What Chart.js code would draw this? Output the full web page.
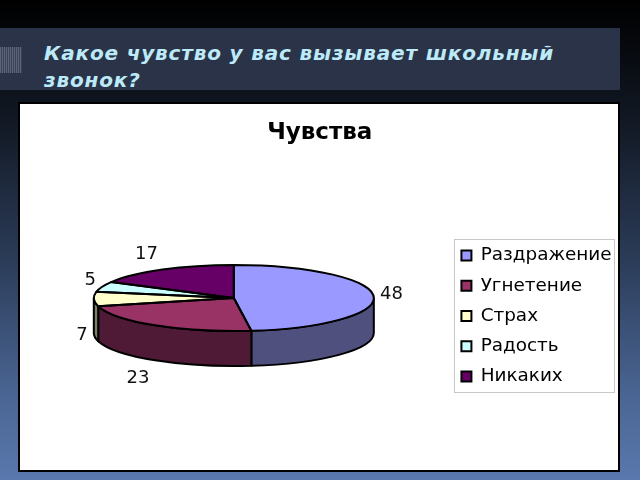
<!DOCTYPE html>
<html>
<head>
<meta charset="utf-8">
<title>Чувства</title>
<style>
html, body { margin: 0; padding: 0; }
body {
  width: 640px; height: 480px; overflow: hidden; position: relative;
  background: linear-gradient(to bottom, #000 0%, #05070b 8%, #141c29 28%, #2c3d5a 55%, #4a6593 82%, #5a78ad 100%);
}
#band { position: absolute; left: 0; top: 28px; width: 620px; height: 62px; background: #2a3347; }
#stripes {
  position: absolute; left: 0; top: 47px; width: 22px; height: 26px;
  background: repeating-linear-gradient(to right, #5b6478 0 1px, #3a4356 1px 2px);
}
#head {
  position: absolute; left: 44px; top: 40px; width: 560px; margin: 0;
  font: italic bold 20px/27px "DejaVu Sans", sans-serif; letter-spacing: 0.83px; color: #bdeaf8;
}
#panel { position: absolute; left: 18px; top: 102px; width: 598px; height: 366px; background: #fff; border: 2px solid #000; }
canvas { position: absolute; left: 18px; top: 102px; }
</style>
</head>
<body>
<div id="band"></div>
<div id="stripes"></div>
<h1 id="head">Какое чувство у вас вызывает школьный звонок?</h1>
<div id="panel"></div>
<canvas id="myChart" width="602" height="370"></canvas>
<script src="https://cdn.jsdelivr.net/npm/chart.js"></script>
<script>
const chartTitle = "Чувства";
const categories = ["Раздражение", "Угнетение", "Страх", "Радость", "Никаких"];
const values = [48, 23, 7, 5, 17];
const topColors = ["#9999ff", "#993366", "#ffffcc", "#ccffff", "#660066"];
const wallColors = ["#50507f", "#4e1a35", "#7f7f66", "#667f7f", "#330033"];

const squash = 0.236;   // flattening of the pie
const depth = 35;       // height of the side wall
const shiftY = -18;
const labelNudgeX = [0, -7, 6, 5, -7];
const labelNudgeY = [0, 3, 1, 0, 0];

function place(arc) {
  return { x: arc.x, y: arc.y + shiftY, rx: arc.outerRadius, ry: arc.outerRadius * squash };
}

/*----3d look: wall under the arcs, flattened arcs, outlines on top----*/
const pie3d = {
  id: "pie3d",
  beforeDatasetsDraw(chart) {
    const ctx = chart.ctx;
    const arcs = chart.getDatasetMeta(0).data;
    arcs.forEach(function (arc, i) {
      const p = place(arc);
      const a = Math.max(arc.startAngle, 0);
      const b = Math.min(arc.endAngle, Math.PI);
      if (b <= a) return;
      ctx.save();
      ctx.beginPath();
      ctx.ellipse(p.x, p.y, p.rx, p.ry, 0, a, b);
      ctx.ellipse(p.x, p.y + depth, p.rx, p.ry, 0, b, a, true);
      ctx.closePath();
      ctx.fillStyle = wallColors[i];
      ctx.fill();
      ctx.strokeStyle = "#000";
      ctx.lineWidth = 2;
      ctx.lineJoin = "round";
      ctx.stroke();
      ctx.restore();
    });
    const p0 = place(arcs[0]);
    ctx.save();
    ctx.translate(p0.x, p0.y);
    ctx.scale(1, squash);
    ctx.translate(-arcs[0].x, -arcs[0].y);
  },
  afterDatasetsDraw(chart) {
    const ctx = chart.ctx;
    ctx.restore();
    const arcs = chart.getDatasetMeta(0).data;
    arcs.forEach(function (arc, i) {
      const p = place(arc);
      ctx.save();
      ctx.beginPath();
      ctx.moveTo(p.x, p.y);
      ctx.ellipse(p.x, p.y, p.rx, p.ry, 0, arc.startAngle, arc.endAngle);
      ctx.closePath();
      ctx.strokeStyle = "#000";
      ctx.lineWidth = 2;
      ctx.lineJoin = "round";
      ctx.stroke();
      ctx.restore();

      // value label outside the rim
      const mid = (arc.startAngle + arc.endAngle) / 2;
      const front = Math.sin(mid) > 0 ? depth : 0;
      ctx.save();
      ctx.font = '18px "DejaVu Sans"';
      ctx.fillStyle = "#111";
      ctx.textAlign = "center";
      ctx.textBaseline = "middle";
      ctx.fillText(String(values[i]), p.x + (p.rx + 18) * Math.cos(mid) + labelNudgeX[i], p.y + (p.ry + 18) * Math.sin(mid) + front + labelNudgeY[i]);
      ctx.restore();
    });
  },
  afterDraw(chart) {
    // legend frame around the rows
    const hits = chart.legend.legendHitBoxes;
    const first = hits[0];
    const last = hits[hits.length - 1];
    const left = Math.round(first.left - 7);
    const top = Math.round(first.top - 7);
    const ctx = chart.ctx;
    ctx.save();
    ctx.strokeStyle = "#c8c8c8";
    ctx.lineWidth = 1;
    ctx.strokeRect(left + 0.5, top + 0.5, 160, Math.round(last.top + last.height + 6) - top);
    ctx.restore();
  }
};

new Chart("myChart", {
  type: "pie",
  data: {
    labels: categories,
    datasets: [{
      data: values,
      backgroundColor: topColors,
      borderWidth: 0
    }]
  },
  options: {
    responsive: false,
    animation: false,
    layout: { padding: { left: 0, right: -1.6, top: 0, bottom: 16 } },
    plugins: {
      tooltip: { enabled: false },
      title: {
        display: true,
        text: chartTitle,
        color: "#000",
        font: { family: "DejaVu Sans", size: 23, weight: "bold" },
        padding: { top: 17, bottom: 29.4 }
      },
      legend: {
        position: "right",
        fullSize: false,
        labels: {
          color: "#111",
          font: { family: "DejaVu Sans", size: 18.4 },
          boxWidth: 10,
          boxHeight: 10,
          padding: 11.8,
          generateLabels(chart) {
            return categories.map(function (c, i) {
              return { text: c, fillStyle: topColors[i], strokeStyle: "#000", lineWidth: 2, index: i };
            });
          }
        }
      }
    }
  },
  plugins: [pie3d]
});
</script>
</body>
</html>
